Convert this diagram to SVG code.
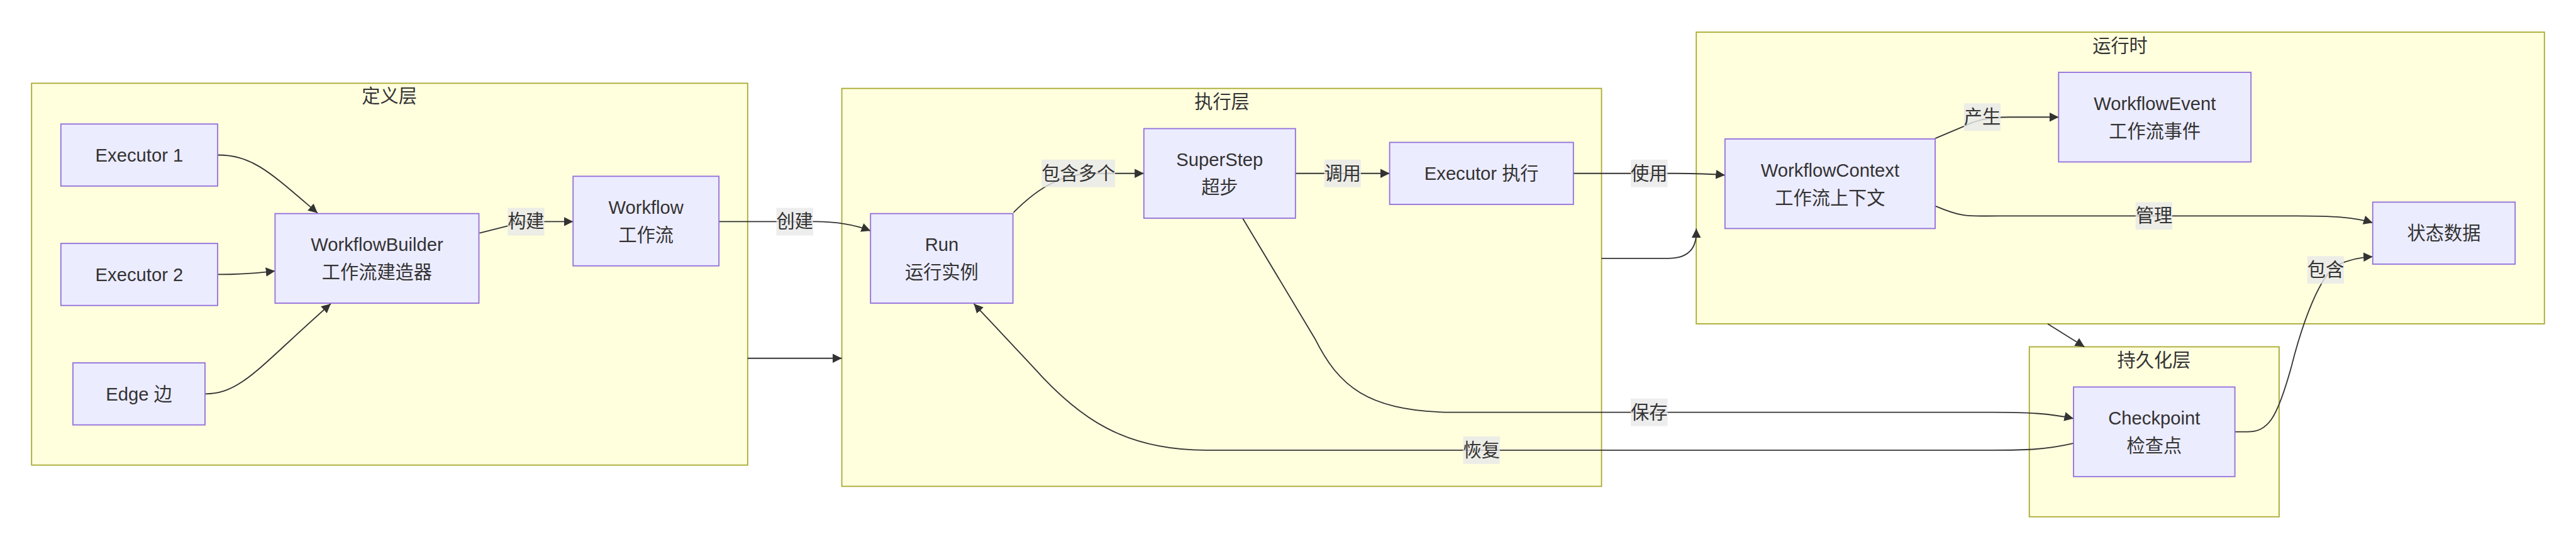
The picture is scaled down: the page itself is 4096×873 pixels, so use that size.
<svg xmlns="http://www.w3.org/2000/svg" width="4096" height="873" viewBox="0 0 4096 873">
<style>
.cl{fill:#ffffde;stroke:#aaaa33;stroke-width:2}
.nd{fill:#ececff;stroke:#9370db;stroke-width:2}
.t{font-family:"Liberation Sans","Noto Sans CJK SC",sans-serif;font-size:32px;fill:#333;text-anchor:middle}
.e{fill:none;stroke:#333;stroke-width:2}
.lb{fill:#e8e8e8;fill-opacity:0.8}
</style>
<defs>
<marker id="ar" viewBox="0 0 10 10" refX="10" refY="5" markerUnits="userSpaceOnUse" markerWidth="16" markerHeight="16" orient="auto">
<path d="M0,0 L10,5 L0,10 z" fill="#333"/>
</marker>
</defs>
<rect width="4096" height="873" fill="#fff"/>
<g transform="scale(0.91306)">
<g id="clusters">
<g id="c-def"><rect class="cl" x="55" y="145" width="1247" height="665"/><text class="t" x="678" y="179">定义层</text></g>
<g id="c-exec"><rect class="cl" x="1466" y="154" width="1323" height="693"/><text class="t" x="2128" y="188">执行层</text></g>
<g id="c-rt"><rect class="cl" x="2954" y="56" width="1477" height="508"/><text class="t" x="3692" y="91">运行时</text></g>
<g id="c-ps"><rect class="cl" x="3534" y="604" width="435" height="296"/><text class="t" x="3751" y="638">持久化层</text></g>
</g>
<g id="connectors">
<path class="e" marker-end="url(#ar)" d="M379,270 C440,270 470,300 553,371"/>
<path class="e" marker-end="url(#ar)" d="M379,478 C430,478 450,475 479,472"/>
<path class="e" marker-end="url(#ar)" d="M357,686 C420,686 450,640 576,529"/>
<path class="e" marker-end="url(#ar)" d="M835,406 L886,393 Q900,386 916,386 L998,386"/>
<path class="e" marker-end="url(#ar)" d="M1252,386 L1420,386 C1460,386 1490,392 1516,402"/>
<path class="e" marker-end="url(#ar)" d="M1302,624 L1466,624"/>
<path class="e" marker-end="url(#ar)" d="M1765,370 C1800,335 1840,304 1900,302 L1992,302"/>
<path class="e" marker-end="url(#ar)" d="M2256,302 L2420,302"/>
<path class="e" marker-end="url(#ar)" d="M2740,302 L2920,302 C2960,302 2980,303 3004,305"/>
<path class="e" marker-end="url(#ar)" d="M2789,450 L2905,450 Q2954,450 2954,405 L2954,398"/>
<path class="e" marker-end="url(#ar)" d="M3370,241 L3420,220 C3440,210 3460,204 3500,204 L3585,204"/>
<path class="e" marker-end="url(#ar)" d="M3371,359 C3420,380 3430,376 3480,376 L4000,376 C4060,376 4100,378 4132,388"/>
<path class="e" marker-end="url(#ar)" d="M2164,380 L2290,590 C2330,670 2380,718 2530,718 L3470,718 C3530,718 3570,720 3611,729"/>
<path class="e" marker-end="url(#ar)" d="M3611,772 C3560,784 3520,784 3470,784 L2100,784 C1960,784 1880,730 1800,640 L1696,529"/>
<path class="e" marker-end="url(#ar)" d="M3892,752 L3913,752 C3950,752 3965,730 3990,640 C4010,560 4040,480 4070,462 C4090,452 4110,448 4132,447"/>
<path class="e" marker-end="url(#ar)" d="M3566,564 L3630,604"/>
</g>
<g id="edge-labels">
<rect class="lb" x="884" y="362" width="64" height="48"/><text class="t" x="916" y="397">构建</text>
<rect class="lb" x="1352" y="362" width="64" height="48"/><text class="t" x="1384" y="397">创建</text>
<rect class="lb" x="1814" y="278" width="128" height="48"/><text class="t" x="1878" y="313">包含多个</text>
<rect class="lb" x="2306" y="278" width="64" height="48"/><text class="t" x="2338" y="313">调用</text>
<rect class="lb" x="2840" y="278" width="64" height="48"/><text class="t" x="2872" y="313">使用</text>
<rect class="lb" x="3420" y="180" width="64" height="48"/><text class="t" x="3452" y="215">产生</text>
<rect class="lb" x="3719" y="352" width="64" height="48"/><text class="t" x="3751" y="387">管理</text>
<rect class="lb" x="4018" y="446" width="64" height="48"/><text class="t" x="4050" y="481">包含</text>
<rect class="lb" x="2840" y="694" width="64" height="48"/><text class="t" x="2872" y="729">保存</text>
<rect class="lb" x="2548" y="760" width="64" height="48"/><text class="t" x="2580" y="795">恢复</text>
</g>
<g id="n-exec1"><rect class="nd" x="106" y="216" width="273" height="108"/><text class="t" x="242.5" y="281.5">Executor 1</text></g>
<g id="n-exec2"><rect class="nd" x="106" y="424" width="273" height="108"/><text class="t" x="242.5" y="489.5">Executor 2</text></g>
<g id="n-edge"><rect class="nd" x="127" y="632" width="230" height="108"/><text class="t" x="242" y="697.5">Edge 边</text></g>
<g id="n-builder"><rect class="nd" x="479" y="372" width="355" height="156"/><text class="t" x="656.5" y="437.5">WorkflowBuilder</text><text class="t" x="656.5" y="485.5">工作流建造器</text></g>
<g id="n-workflow"><rect class="nd" x="998" y="307" width="254" height="156"/><text class="t" x="1125" y="372.5">Workflow</text><text class="t" x="1125" y="420.5">工作流</text></g>
<g id="n-run"><rect class="nd" x="1516" y="372" width="248" height="156"/><text class="t" x="1640" y="437.5">Run</text><text class="t" x="1640" y="485.5">运行实例</text></g>
<g id="n-superstep"><rect class="nd" x="1992" y="224" width="264" height="156"/><text class="t" x="2124" y="289.5">SuperStep</text><text class="t" x="2124" y="337.5">超步</text></g>
<g id="n-execrun"><rect class="nd" x="2420" y="248" width="320" height="108"/><text class="t" x="2580" y="313.5">Executor 执行</text></g>
<g id="n-context"><rect class="nd" x="3004" y="242" width="366" height="156"/><text class="t" x="3187" y="307.5">WorkflowContext</text><text class="t" x="3187" y="355.5">工作流上下文</text></g>
<g id="n-event"><rect class="nd" x="3585" y="126" width="335" height="156"/><text class="t" x="3752.5" y="191.5">WorkflowEvent</text><text class="t" x="3752.5" y="239.5">工作流事件</text></g>
<g id="n-state"><rect class="nd" x="4132" y="352" width="248" height="108"/><text class="t" x="4256" y="417.5">状态数据</text></g>
<g id="n-checkpoint"><rect class="nd" x="3611" y="674" width="281" height="156"/><text class="t" x="3751.5" y="739.5">Checkpoint</text><text class="t" x="3751.5" y="787.5">检查点</text></g>
</g>
</svg>
